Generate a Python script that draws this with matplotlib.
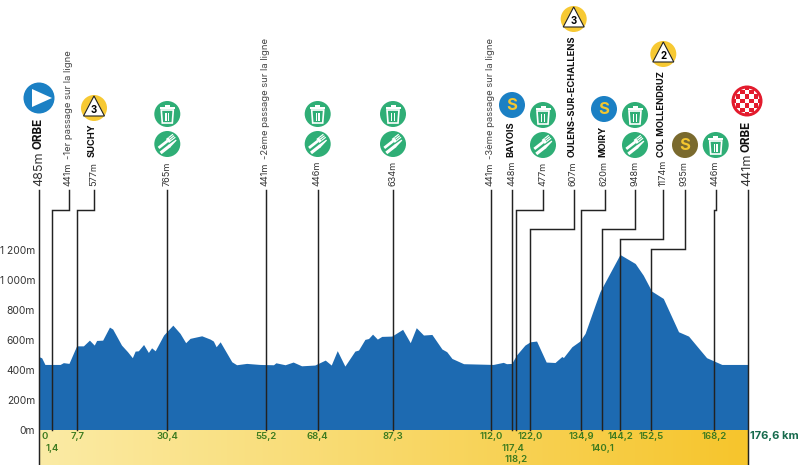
import numpy as np
import matplotlib
matplotlib.use("Agg")
import matplotlib.pyplot as plt
from matplotlib.patches import Circle, Polygon, Rectangle, FancyBboxPatch
from matplotlib.transforms import Affine2D

plt.rcParams["font.family"] = ["Inter", "DejaVu Sans"]

# profile of the stage
profile_km = [0, 0.6, 1.4, 5.2, 6.0, 7.4, 9.3, 11.0, 12.5, 13.7, 14.3, 15.8, 17.5, 18.3, 20.5, 22.0,
              23.2, 23.9, 24.7, 26.0, 27.2, 28.0, 28.9, 31.0, 33.3, 35.1, 36.5, 37.6, 40.5, 42.6,
              43.4, 44.1, 45.1, 48.0, 49.2, 51.7, 55.0, 58.4, 59.0, 61.3, 63.3, 65.4, 68.7, 71.3,
              72.8, 74.3, 76.2, 78.7, 79.6, 81.2, 82.1, 83.1, 84.3, 85.4, 87.9, 90.6, 92.5, 94.0,
              95.8, 97.9, 100.4, 101.6, 102.9, 105.8, 113.2, 115.7, 116.5, 117.8, 119.0, 121.1,
              122.4, 124.0, 126.4, 128.6, 130.3, 130.7, 132.8, 134.8, 136.1, 138.6, 139.8, 144.8,
              148.6, 150.6, 152.7, 155.6, 159.4, 161.9, 164.8, 166.4, 170.2, 176.6]
profile_m = [488, 481, 437, 437, 449, 444, 561, 561, 599, 566, 597, 599, 686, 673, 566, 522,
             482, 526, 528, 570, 517, 548, 528, 633, 699, 644, 582, 611, 628, 606,
             593, 555, 588, 455, 435, 444, 437, 435, 448, 435, 453, 428, 433, 466,
             433, 529, 426, 526, 533, 604, 610, 639, 606, 624, 626, 671, 582, 682,
             633, 637, 540, 522, 477, 442, 437, 451, 442, 444, 500, 566,
             588, 593, 453, 450, 490, 483, 555, 593, 644, 833, 922, 1170,
             1110, 1032, 926, 877, 655, 626, 533, 482, 437, 437]

y_ticks = [0, 200, 400, 600, 800, 1000, 1200]
y_labels = ["0m", "200m", "400m", "600m", "800m", "1 000m", "1 200m"]

# passage points
km_labels = ["0", "1,4", "7,7", "30,4", "55,2", "68,4", "87,3", "112,0", "117,4", "118,2",
             "122,0", "134,9", "140,1", "144,2", "152,5", "168,2"]
km_drawn = [0, 3.2, 9.5, 31.9, 56.5, 69.4, 88.2, 112.6, 118.0, 118.9,
            122.4, 135.2, 140.4, 144.8, 152.5, 168.3]
altitudes = ["485m", "441m", "577m", "765m", "441m", "446m", "634m", "441m", "448m", "477m",
             "607m", "620m", "948m", "1174m", "935m", "446m"]
names = ["ORBE", "", "SUCHY", "", "", "", "", "", "BAVOIS", "",
         "OULENS-SUR-ECHALLENS", "MOIRY", "", "COL MOLLENDRUZ", "", ""]
notes = ["", "-1er passage sur la ligne", "", "", "-2ème passage sur la ligne", "", "",
         "-3ème passage sur la ligne", "", "", "", "", "", "", "", ""]
total_km = 176.6

X0, X1, Y0 = 39.3, 747.5, 430
PX_PER_KM = (X1 - X0) / total_km
PX_PER_M = 0.15
W, H = 800, 465

INK = "#222222"
BLUE = "#1D6AB1"
GREEN = "#2FAE76"
KM_GREEN = "#3C7A1E"


def km_px(km):
    return X0 + km * PX_PER_KM


fig = plt.figure(figsize=(8, 4.65), dpi=100)

# profile in km / m
top_m = 1333
ax = fig.add_axes([X0 / W, 1 - Y0 / H, (X1 - X0) / W, top_m * PX_PER_M / H])
ax.fill_between(profile_km, profile_m, 0, color=BLUE, lw=0)
ax.set_xlim(0, total_km)
ax.set_ylim(0, top_m)
ax.set_xticks([])
ax.set_yticks(y_ticks)
ax.set_yticklabels(y_labels, fontsize=7.4, color="#333333")
ax.tick_params(axis="y", length=0, pad=3)
for lab in ax.get_yticklabels():
    lab.set_verticalalignment("center_baseline")
for s in ax.spines.values():
    s.set_visible(False)

# overlay in pixels for labels and symbols
ov = fig.add_axes([0, 0, 1, 1])
ov.set_xlim(0, W)
ov.set_ylim(H, 0)
ov.axis("off")
ov.patch.set_alpha(0)

grad = np.linspace(0, 1, 256).reshape(1, -1, 1)
c0 = np.array([251, 235, 165]).reshape(1, 1, 3) / 255
c1 = np.array([246, 197, 44]).reshape(1, 1, 3) / 255
ov.imshow(c0 + (c1 - c0) * grad, extent=(X0, X1, H, Y0), aspect="auto", zorder=1)
ov.set_xlim(0, W)
ov.set_ylim(H, 0)

# top x of the leader line and height of its elbow
top_x = [39.3, 68.7, 94, 167.3, 265.7, 317.7, 393, 490.7, 512.3, 543,
         573.7, 604.7, 635, 663.3, 684.7, 715.7]
elbow_y = [None, 210, 210, None, None, None, None, None, None, 210,
           229, 210, 229, 239, 249, 210]
row = [0, 1, 0, 0, 0, 0, 0, 0, 1, 2, 0, 0, 1, 0, 0, 0]
row_y = [436, 448, 459]

for i in range(len(km_labels)):
    low = km_px(km_drawn[i])
    bottom = H if i == 0 else Y0
    if elbow_y[i] is None:
        xs, ys = [top_x[i], top_x[i]], [190, bottom]
    else:
        xs = [top_x[i], top_x[i], low, low]
        ys = [190, elbow_y[i], elbow_y[i], bottom]
    ov.plot(xs, ys, color=INK, lw=1.05, zorder=3, solid_joinstyle="miter")

    lab_x = 45 if i == 0 else low
    ov.text(lab_x, row_y[row[i]], km_labels[i], color=KM_GREEN, fontsize=6.9, fontweight="semibold",
            ha="center", va="center", zorder=4)

    big = i == 0
    ov.text(top_x[i] - 0.5, 186, altitudes[i], rotation=90, ha="center", va="bottom",
            fontsize=9 if big else 6.6, color="#333333", zorder=4)
    if names[i]:
        ov.text(top_x[i] - 0.5 - (0 if big else 1), 149 if big else 157, names[i], rotation=90, ha="center", va="bottom",
                fontsize=8.4 if big else 6.7, fontweight="bold", color="#111111", zorder=4)
    if notes[i]:
        ov.text(top_x[i] - 0.5, 159, notes[i], rotation=90, ha="center", va="bottom",
                fontsize=6.8, color="#444444", zorder=4)

# finish line and its labels
ov.plot([X1, X1], [190, H], color=INK, lw=1.05, zorder=3)
ov.text(X1 - 0.5, 186, "441m", rotation=90, ha="center", va="bottom", fontsize=9, color="#333333", zorder=4)
ov.text(X1 - 0.5, 152, "ORBE", rotation=90, ha="center", va="bottom", fontsize=8.4, fontweight="bold",
        color="#111111", zorder=4)
ov.text(750, 436, "176,6 km", color="#176B4D", fontsize=8, fontweight="bold", ha="left", va="center", zorder=4)


def disc(x, y, r, color):
    c = Circle((x, y), r, fc=color, ec="none", zorder=5)
    ov.add_patch(c)
    return c


def kom(x, y, cat):
    disc(x, y, 13, "#F7C933")
    ov.add_patch(Polygon([(x, y - 12), (x + 10.5, y + 8), (x - 10.5, y + 8)], fc="white", ec="#222222",
                         lw=0.8, zorder=6))
    ov.text(x, y + 2, cat, fontsize=7, fontweight="bold", ha="center", va="center", color="black", zorder=7)


def sprint(x, y, color):
    disc(x, y, 13, color)
    ov.text(x, y, "S", fontsize=12, fontweight="bold", ha="center", va="center", color="#F3C62F", zorder=7)


def trash(x, y):
    disc(x, y, 13, GREEN)
    ov.add_patch(Polygon([(x - 6, y - 4), (x + 6, y - 4), (x + 5, y + 9), (x - 5, y + 9)], fc=GREEN, ec="white",
                         lw=1.2, zorder=6))
    ov.add_patch(Rectangle((x - 7.5, y - 7), 15, 2.2, fc="white", ec="none", zorder=6))
    ov.add_patch(Rectangle((x - 2.5, y - 9), 5, 2.2, fc="white", ec="none", zorder=6))
    for dx in (-2, 0.6):
        ov.add_patch(Rectangle((x + dx, y - 1.5), 1.2, 8, fc="white", ec="none", zorder=6))


def cutlery(x, y):
    disc(x, y, 13, GREEN)
    rot = Affine2D().rotate_deg_around(x, y, -38) + ov.transData
    # fork handle, head and tines
    ov.add_patch(FancyBboxPatch((x - 9, y - 3.4), 11, 2.2, boxstyle="round,pad=0.3", fc="white", ec="none",
                                zorder=6, transform=rot))
    ov.add_patch(Rectangle((x + 2, y - 4.8), 3, 5, fc="white", ec="none", zorder=6, transform=rot))
    for dy in (-4.8, -2.9, -1.0):
        ov.add_patch(Rectangle((x + 5, y + dy), 5.5, 1.2, fc="white", ec="none", zorder=6, transform=rot))
    # knife
    ov.add_patch(FancyBboxPatch((x - 10.5, y + 1.6), 11, 2.6, boxstyle="round,pad=0.3", fc="white", ec="none",
                                zorder=6, transform=rot))
    ov.add_patch(Polygon([(x, y + 1.3), (x + 9.5, y + 1.8), (x + 9.5, y + 3), (x, y + 4.5)], fc="white",
                         ec="none", zorder=6, transform=rot))


def start(x, y):
    disc(x, y, 15.5, "#1B80C4")
    ov.add_patch(Polygon([(x - 7, y - 9), (x + 13, y), (x - 7, y + 9)], fc="white", ec="none", zorder=6))


def finish(x, y):
    disc(x, y, 15.5, "#E31B2D")
    inner = Circle((x, y), 12.5, fc="none", ec="none", transform=ov.transData)
    ov.add_patch(inner)
    for a in range(-3, 4):
        for b in range(-3, 4):
            if (a + b) % 2 == 0:
                sq = Rectangle((x + a * 4.4 - 2.2, y + b * 4.4 - 2.2), 4.4, 4.4, fc="white", ec="none", zorder=6)
                ov.add_patch(sq)
                sq.set_clip_path(inner)


start(39, 98)
finish(747, 101)
kom(94, 108, "3")
kom(573.7, 19, "3")
kom(663.3, 54, "2")
sprint(512, 105, "#1B80C4")
sprint(604, 109, "#1B80C4")
sprint(685, 145, "#7A6A2E")
for tx, fy in [(167.3, 144), (317.7, 144), (393, 144), (543, 145), (635, 145)]:
    trash(tx, fy - 30)
    cutlery(tx, fy)
trash(715.7, 145)

fig.savefig("out.png", dpi=100)
